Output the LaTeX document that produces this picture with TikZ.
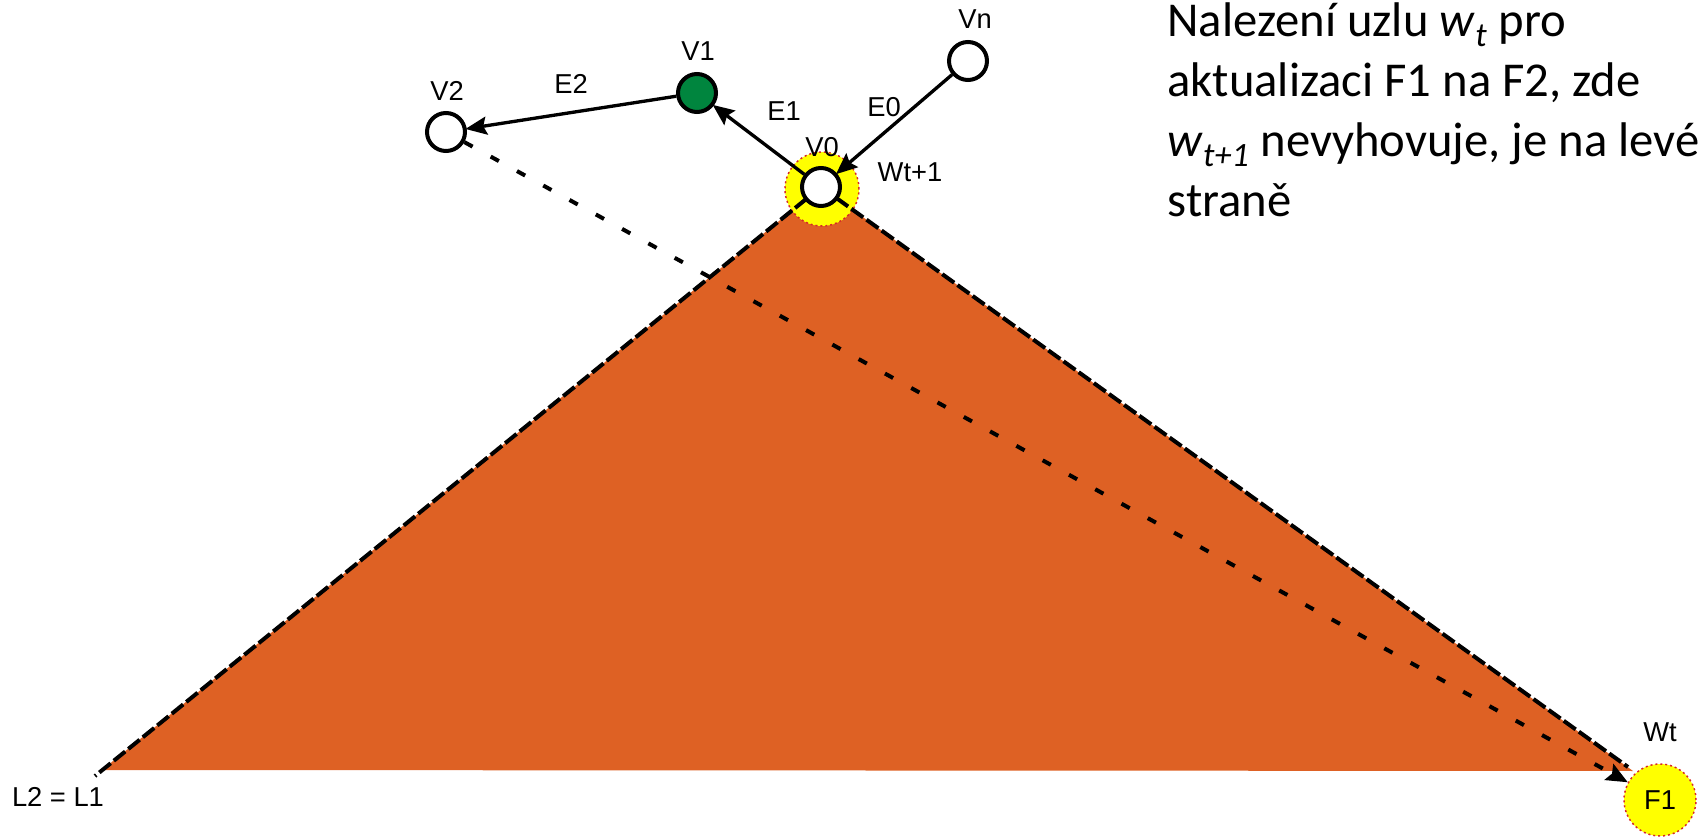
\documentclass[tikz,border=0pt]{standalone}
\usepackage{fontspec}
\setmainfont{Liberation Sans}
\newfontfamily\notefont{Carlito}
\usetikzlibrary{arrows.meta}

\definecolor{conefill}{RGB}{222,97,36}
\definecolor{haloyellow}{RGB}{255,255,0}
\definecolor{halored}{RGB}{214,40,40}
\definecolor{visitgreen}{RGB}{0,133,62}

\tikzset{every picture/.style={line width=0.75pt}}
\tikzset{
  vertex/.style={circle, draw=black, line width=3pt, fill=white, inner sep=0pt, minimum size=28.5pt},
  halo/.style={circle, fill=haloyellow, draw=halored, line width=1.1pt, dash pattern=on 1.5pt off 2.2pt, inner sep=0pt, minimum size=55.5pt},
  tip/.style={-{Stealth[length=16pt, width=13.5pt, inset=2.5pt]}},
  edgeline/.style={tip, line width=2.5pt, shorten >=-1pt},
  side/.style={line width=3pt, dash pattern=on 11pt off 3pt},
  trail/.style={tip, line width=3pt, dash pattern=on 7pt off 15.5pt},
  lbl/.style={inner sep=0.75pt, font=\fontsize{20.5}{24}\selectfont},
}

\begin{document}
\begin{tikzpicture}[x=0.75pt,y=0.75pt,yscale=-1,xscale=1]
\useasboundingbox (0,0) rectangle (1700,837);

%Shape: Triangle [cone]
\coordinate (apex) at (821,187);
\coordinate (lcorner) at (102,770);
\coordinate (lend) at (95,776);
\coordinate (rcorner) at (1633,771);
\coordinate (rend) at (1628,767);
\fill [conefill] (apex) -- (lcorner) -- (rcorner) -- cycle;

%Shape: Circle [halo of V0]
\node (wnext) [halo] at (822,189) {};

%Straight Lines [cone sides]
\draw [side] (apex) -- (lend);
\draw [side] (apex) -- (rend);

%Shape: Circles [vertices]
\node (v0) [vertex] at (apex) {};
\node (v1) [vertex, fill=visitgreen] at (697,93) {};
\node (v2) [vertex] at (446,132) {};
\node (vn) [vertex] at (968,61) {};
\node (f1) [halo, minimum size=54pt, lbl] at (1660,800) {F1};

%Straight Lines [edges]
\draw [edgeline] (vn) -- (v0);
\draw [edgeline] (v0) -- (v1);
\draw [edgeline] (v1) -- (v2);
\draw [trail] (v2) -- (f1);

% Text Node
\node (v0lbl) [lbl] at (822,147) {V0};
% Text Node
\node (v1lbl) [lbl] at (698,51) {V1};
% Text Node
\node (v2lbl) [lbl] at (447,91) {V2};
% Text Node
\node (vnlbl) [lbl] at (975,19) {Vn};
% Text Node
\node (e0lbl) [lbl] at (884,107) {E0};
% Text Node
\node (e1lbl) [lbl] at (784,111) {E1};
% Text Node
\node (e2lbl) [lbl] at (571,84) {E2};
% Text Node
\node (wnextlbl) [lbl] at (910,172) {Wt+1};
% Text Node
\node (wtlbl) [lbl] at (1660,732) {Wt};
% Text Node
\node (llbl) [lbl] at (58,797) {L2 = L1};
% Text Node
\node (note) [anchor=north west, inner sep=0pt, align=left, font=\notefont\fontsize{36.5}{45}\selectfont] at (1167,2)
  {Nalezení uzlu \textit{w}\textsubscript{\textit{t}} pro\\aktualizaci F1 na F2, zde\\\textit{w}\textsubscript{\textit{t+1}} nevyhovuje, je na levé\\straně};

\end{tikzpicture}
\end{document}
